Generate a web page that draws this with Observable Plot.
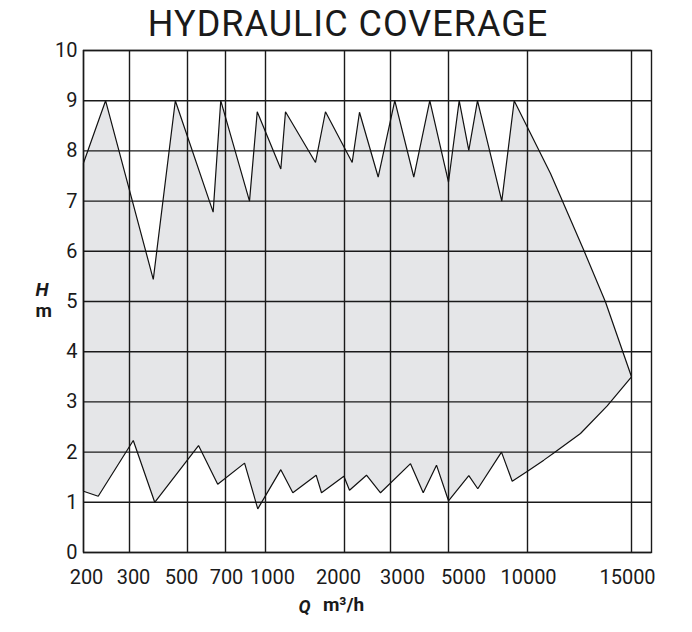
<!DOCTYPE html>
<html><head><meta charset="utf-8">
<script src="https://cdn.jsdelivr.net/npm/d3@7"></script>
<script src="https://cdn.jsdelivr.net/npm/@observablehq/plot@0.6"></script>
<style>
body{margin:0;background:#fff;}
#title{height:36px;text-align:center;font-family:Roboto,sans-serif;font-size:36px;line-height:48px;letter-spacing:1px;color:#1a1a1a;padding-left:4px;}
</style></head><body>
<div id="title">HYDRAULIC COVERAGE</div>
<div id="chart"></div>
<script>
const qTicks = [200, 300, 500, 700, 1000, 2000, 3000, 5000, 10000, 15000];
const hTicks = [0, 1, 2, 3, 4, 5, 6, 7, 8, 9, 10];

// upper boundary (left to right)
const upperQ = [200, 248, 382, 458, 635, 675, 880, 938, 1194, 1253, 1633, 1759, 2167, 2326, 2732, 3148, 3803, 4355, 5000, 5677, 6285, 6835, 8373, 9158, 11106, 12707, 13750, 15000];
const upperH = [7.76, 9, 5.44, 9, 6.78, 9, 7.0, 8.78, 7.64, 8.78, 7.77, 8.78, 7.77, 8.77, 7.48, 9, 7.48, 9, 7.38, 9, 8.01, 9, 7.0, 9, 7.55, 6.02, 4.99, 3.5];

// lower boundary (left to right)
const lowerQ = [200, 232, 313, 387, 558, 659, 843, 942, 1194, 1346, 1641, 1709, 1992, 2109, 2478, 2783, 3690, 4128, 4586, 5000, 6285, 6854, 8354, 9032, 10000, 10784, 11264, 12548, 13832, 15000];
const lowerH = [1.22, 1.12, 2.23, 1.0, 2.13, 1.36, 1.78, 0.87, 1.65, 1.19, 1.54, 1.19, 1.52, 1.24, 1.54, 1.19, 1.77, 1.19, 1.74, 1.03, 1.53, 1.27, 2.0, 1.42, 1.62, 1.84, 1.98, 2.37, 2.92, 3.5];

const ring = [];
upperQ.forEach((q, i) => ring.push({q, h: upperH[i]}));
for (let i = lowerQ.length - 2; i >= 0; i--) ring.push({q: lowerQ[i], h: lowerH[i]});

const ink = "#1a1a1a";
// small horizontal nudges so the tick labels sit as in the original layout
const labelNudge = [3, 4, -6, 1, 7, -6, 12, 15, 1, -4];

const chart = Plot.plot({
  width: 692,
  height: 596,
  marginLeft: 83,
  marginRight: 41,
  marginTop: 14,
  marginBottom: 80,
  style: {fontFamily: "Roboto, sans-serif", fontSize: "20px", color: ink, background: "#fff"},
  x: {type: "linear", domain: qTicks, range: [83, 129, 187, 225, 265, 344, 390, 448, 527, 631], axis: null},
  y: {domain: [0, 10], ticks: hTicks, tickSize: 0, tickPadding: 6, label: null},
  marks: [
    Plot.line(ring, {x: "q", y: "h", curve: "linear-closed", fill: "#e5e6e8", stroke: "none"}),
    Plot.ruleX(qTicks, {stroke: ink, strokeWidth: 1.4}),
    Plot.ruleY(hTicks, {stroke: ink, strokeWidth: 1.4}),
    Plot.frame({stroke: ink, strokeWidth: 1.4}),
    Plot.line(ring, {x: "q", y: "h", curve: "linear-closed", fill: "none", stroke: "#111", strokeWidth: 1.2, strokeLinejoin: "miter"}),
    ...qTicks.map((q, i) => Plot.text([q], {x: d => d, frameAnchor: "bottom", dy: 31, dx: labelNudge[i], text: d => String(d), fontSize: 20, fill: ink})),
    Plot.text(["H"], {frameAnchor: "left", dx: -48, dy: -12, fontSize: 19, fontWeight: "bold", fontStyle: "italic", fill: ink}),
    Plot.text(["m"], {frameAnchor: "left", dx: -48, dy: 9, fontSize: 19, fontWeight: "bold", fill: ink}),
    Plot.text(["Q"], {frameAnchor: "bottom", dx: -63, dy: 60, fontSize: 18, fontWeight: "bold", fontStyle: "italic", fill: ink}),
    Plot.text(["m³/h"], {frameAnchor: "bottom", dx: -24, dy: 58, fontSize: 19, fontWeight: "bold", fill: ink})
  ]
});
document.getElementById("chart").appendChild(chart);
</script>
</body></html>
